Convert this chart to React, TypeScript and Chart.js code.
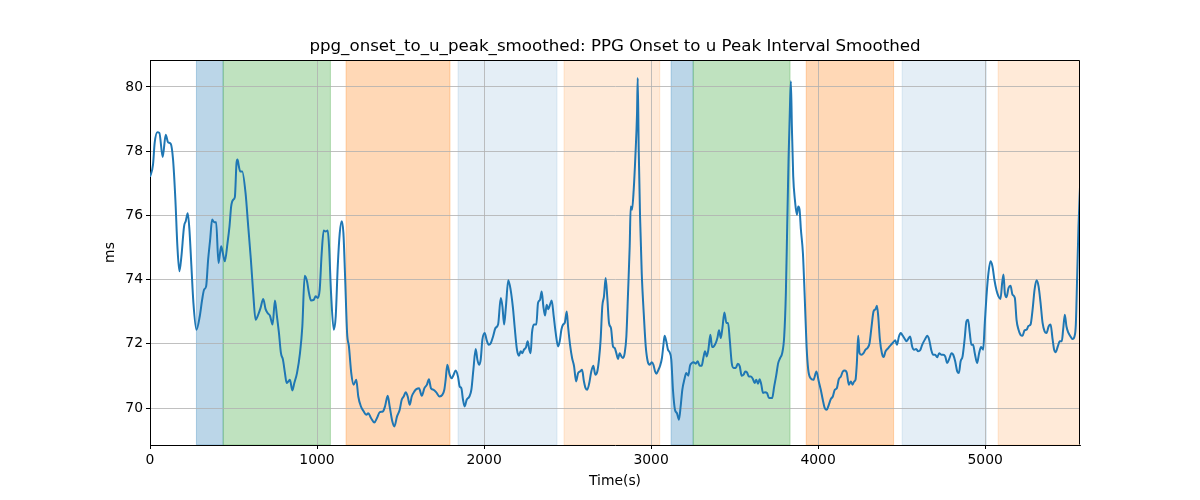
import React, { useEffect, useRef } from "react";
import { Chart, registerables } from "chart.js";

Chart.register(...registerables);

const TITLE = "ppg_onset_to_u_peak_smoothed: PPG Onset to u Peak Interval Smoothed";
const X_LABEL = "Time(s)";
const Y_LABEL = "ms";
const X_TICKS = [0, 1000, 2000, 3000, 4000, 5000];
const Y_TICKS = [70, 72, 74, 76, 78, 80];
const X_MIN = 0;
const X_MAX = 5568;
const Y_MIN = 68.85;
const Y_MAX = 80.84;

const times = [
  0, 18, 28, 44, 56, 76, 94, 108, 124, 138, 152, 164, 176, 188, 204, 214, 226, 236, 248, 260,
  278, 298, 312, 324, 336, 348, 360, 372, 384, 396, 410, 426, 436, 448, 464, 476, 486, 498, 508, 518,
  524, 532, 540, 552, 572, 588, 604, 618, 632, 648, 662, 678, 692, 704, 718, 734, 748, 760, 772, 784,
  796, 808, 818, 828, 838, 852, 864, 880, 898, 912, 926, 940, 952, 964, 980, 992, 1004, 1016, 1028, 1040,
  1052, 1064, 1072, 1084, 1100, 1112, 1124, 1136, 1148, 1158, 1168, 1180, 1191, 1205, 1219, 1235, 1247, 1263, 1279, 1295,
  1307, 1323, 1343, 1359, 1375, 1395, 1407, 1423, 1435, 1451, 1463, 1479, 1495, 1507, 1519, 1531, 1543, 1555, 1567, 1583,
  1595, 1611, 1627, 1643, 1658, 1670, 1682, 1698, 1714, 1734, 1750, 1762, 1770, 1780, 1794, 1806, 1818, 1830, 1844, 1854,
  1864, 1874, 1884, 1896, 1912, 1924, 1936, 1950, 1960, 1970, 1980, 1990, 2004, 2016, 2028, 2040, 2054, 2068, 2084, 2100,
  2110, 2120, 2131, 2145, 2159, 2173, 2183, 2197, 2209, 2219, 2229, 2239, 2251, 2261, 2271, 2279, 2287, 2299, 2313, 2323,
  2335, 2345, 2355, 2365, 2375, 2385, 2395, 2405, 2417, 2429, 2443, 2453, 2463, 2473, 2483, 2495, 2503, 2515, 2527, 2539,
  2551, 2563, 2575, 2587, 2597, 2608, 2618, 2630, 2642, 2654, 2666, 2678, 2688, 2698, 2708, 2718, 2728, 2738, 2748, 2760,
  2772, 2782, 2792, 2802, 2812, 2822, 2832, 2842, 2852, 2862, 2872, 2878, 2886, 2896, 2906, 2916, 2920, 2926, 2934, 2944,
  2956, 2968, 2980, 2992, 3004, 3014, 3024, 3032, 3044, 3054, 3065, 3073, 3081, 3091, 3101, 3111, 3121, 3131, 3143, 3155,
  3167, 3177, 3187, 3199, 3211, 3223, 3233, 3243, 3255, 3267, 3279, 3291, 3303, 3313, 3323, 3333, 3343, 3355, 3365, 3375,
  3387, 3397, 3407, 3417, 3427, 3439, 3451, 3461, 3471, 3483, 3495, 3507, 3519, 3531, 3542, 3554, 3564, 3574, 3586, 3598,
  3610, 3620, 3630, 3640, 3650, 3660, 3670, 3682, 3694, 3706, 3725, 3737, 3749, 3761, 3773, 3785, 3797, 3807, 3815, 3823,
  3831, 3837, 3843, 3851, 3861, 3873, 3881, 3889, 3897, 3909, 3919, 3931, 3941, 3955, 3972, 3990, 4004, 4016, 4028, 4040,
  4052, 4064, 4076, 4088, 4100, 4112, 4124, 4136, 4148, 4160, 4172, 4184, 4196, 4206, 4216, 4224, 4232, 4240, 4248, 4260,
  4272, 4284, 4296, 4308, 4320, 4332, 4344, 4352, 4360, 4370, 4382, 4392, 4404, 4420, 4436, 4450, 4462, 4472, 4484, 4495,
  4507, 4519, 4529, 4539, 4551, 4563, 4575, 4587, 4599, 4611, 4623, 4641, 4653, 4665, 4677, 4689, 4701, 4713, 4725, 4737,
  4749, 4761, 4773, 4785, 4799, 4809, 4821, 4833, 4843, 4853, 4865, 4877, 4888, 4898, 4908, 4918, 4928, 4938, 4952, 4964,
  4976, 4988, 4998, 5008, 5020, 5032, 5044, 5056, 5068, 5080, 5092, 5102, 5110, 5118, 5128, 5140, 5152, 5164, 5178, 5188,
  5200, 5212, 5224, 5236, 5248, 5260, 5272, 5284, 5296, 5308, 5320, 5332, 5344, 5356, 5368, 5380, 5392, 5403, 5413, 5423,
  5435, 5447, 5459, 5467, 5477, 5487, 5499, 5511, 5523, 5535, 5543, 5551, 5559, 5568,
];

const values = [
  77.2, 77.58, 78.26, 78.59, 78.57, 77.82, 78.51, 78.28, 78.23, 77.74, 76.49, 75.04, 74.26, 74.72, 75.66, 75.82, 76.07, 75.56, 74.41, 73.27,
  72.44, 72.86, 73.37, 73.69, 73.79, 74.62, 75.24, 75.87, 75.79, 75.79, 74.52, 75.04, 74.83, 74.57, 75.14, 75.66, 76.28, 76.49, 76.57, 77.63,
  77.74, 77.53, 77.37, 77.37, 76.7, 75.66, 74.62, 73.58, 72.75, 72.91, 73.12, 73.4, 73.08, 72.96, 72.88, 72.6, 73.35, 72.86, 72.34, 71.71,
  71.51, 71.09, 70.78, 70.83, 70.88, 70.55, 70.78, 71.09, 71.71, 72.54, 74.12, 73.95, 73.58, 73.35, 73.37, 73.48, 73.43, 73.69, 74.83, 75.53,
  75.5, 75.53, 75.04, 73.58, 72.44, 72.86, 74.41, 75.45, 75.82, 75.45, 74.1, 72.34, 71.92, 71.09, 70.73, 70.88, 70.36, 70.05, 69.9, 69.79,
  69.84, 69.69, 69.55, 69.69, 69.87, 69.9, 70.05, 70.38, 70.05, 69.58, 69.43, 69.74, 69.95, 70.26, 70.36, 70.49, 70.36, 70.1, 70.36, 70.52,
  70.59, 70.62, 70.38, 70.62, 70.73, 70.9, 70.62, 70.57, 70.49, 70.36, 70.41, 70.57, 70.88, 71.35, 71.04, 70.93, 71.04, 71.17, 70.98, 70.67,
  70.62, 70.26, 70.05, 70.26, 70.36, 70.57, 71.19, 71.84, 71.51, 71.35, 71.51, 72.13, 72.34, 72.11, 71.97, 72.02, 72.23, 72.49, 72.6, 73.43,
  73.17, 72.6, 73.17, 73.98, 73.69, 73.12, 72.54, 71.82, 71.63, 71.77, 71.71, 71.82, 71.89, 72.08, 71.82, 71.71, 72.34, 72.6, 72.6, 73.27,
  73.37, 73.63, 73.17, 72.88, 73.22, 73.08, 73.22, 73.35, 72.86, 72.34, 71.92, 72.08, 72.44, 72.6, 72.65, 73.01, 72.54, 71.97, 71.56, 71.3,
  70.83, 71.09, 71.14, 71.19, 70.86, 70.62, 70.57, 70.78, 71.14, 71.32, 71.04, 71.14, 71.51, 72.13, 73.17, 73.48, 74.05, 73.43, 72.65, 72.49,
  71.92, 71.87, 71.71, 71.53, 71.71, 71.61, 71.56, 71.71, 72.23, 73.58, 75.04, 76.28, 76.18, 76.8, 77.84, 79.19, 80.28, 78.05, 75.97, 74.21,
  72.96, 71.92, 71.45, 71.35, 71.43, 71.35, 71.14, 71.07, 71.19, 71.32, 71.56, 71.92, 72.25, 72.08, 71.82, 71.74, 71.51, 70.57, 69.95, 69.84,
  69.64, 70.05, 70.57, 70.88, 71.09, 71.01, 71.32, 71.4, 71.43, 71.38, 71.46, 71.32, 71.32, 71.56, 71.77, 71.61, 71.82, 72.28, 71.9, 71.92,
  72.02, 72.18, 72.42, 72.18, 72.49, 72.98, 72.65, 72.65, 72.13, 71.4, 71.25, 71.25, 71.38, 71.3, 71.01, 71.04, 71.14, 71.11, 70.98, 70.98,
  70.9, 70.78, 70.88, 70.76, 70.9, 70.73, 70.47, 70.49, 70.47, 70.31, 70.31, 70.67, 71.01, 71.4, 71.56, 71.71, 72.23, 73.58, 75.66, 77.74,
  79.29, 80.18, 78.77, 77.22, 76.49, 76.02, 76.28, 76.18, 75.56, 74.83, 73.58, 71.92, 71.19, 70.93, 70.88, 71.14, 70.83, 70.57, 70.26, 70.0,
  69.95, 70.1, 70.28, 70.36, 70.57, 70.62, 70.9, 70.98, 71.14, 71.17, 71.09, 70.73, 70.83, 70.73, 70.83, 70.88, 71.4, 72.25, 71.71, 71.66,
  71.71, 71.82, 71.87, 72.02, 72.54, 73.01, 73.08, 73.19, 72.86, 72.13, 71.71, 71.59, 71.77, 71.87, 71.97, 72.05, 72.11, 71.97, 72.23, 72.34,
  72.25, 72.15, 72.08, 72.15, 72.23, 71.92, 71.82, 71.84, 71.77, 71.8, 71.97, 72.15, 72.25, 72.13, 71.82, 71.66, 71.66, 71.58, 71.71, 71.66,
  71.66, 71.61, 71.4, 71.53, 71.71, 71.66, 71.45, 71.14, 71.09, 71.45, 71.61, 72.13, 72.7, 72.75, 72.34, 71.97, 71.97, 71.71, 71.4, 71.71,
  71.9, 71.82, 72.65, 73.48, 74.21, 74.57, 74.41, 73.98, 73.67, 73.48, 73.4, 73.9, 74.16, 73.58, 73.45, 73.74, 73.81, 73.53, 73.43, 72.75,
  72.44, 72.28, 72.25, 72.42, 72.44, 72.56, 72.6, 73.06, 73.69, 73.98, 73.79, 73.27, 72.65, 72.39, 72.34, 72.54, 72.6, 72.18, 71.82, 71.74,
  71.92, 72.08, 72.08, 72.44, 72.91, 72.54, 72.34, 72.23, 72.15, 72.23, 72.6, 74.1, 75.66, 76.88,
];

// shaded intervals (phases)
const bandStarts = [278, 438, 1174, 1844, 2479, 3120, 3252, 3929, 4503, 5078];
const bandEnds = [438, 1080, 1796, 2437, 3052, 3252, 3832, 4452, 5007, 5568];
const bandKinds = ["blue", "green", "orange", "lightblue", "lightorange", "blue", "green", "orange", "lightblue", "lightorange"];

const BAND_STYLE: Record<string, string> = {
  blue: "rgba(31,119,180,0.3)",
  green: "rgba(44,160,44,0.3)",
  orange: "rgba(255,127,14,0.3)",
  lightblue: "rgba(31,119,180,0.12)",
  lightorange: "rgba(255,127,14,0.16)",
};

const FONT = "'DejaVu Sans', sans-serif";

export default function App() {
  const ref = useRef<HTMLCanvasElement | null>(null);

  useEffect(() => {
    if (!ref.current) return;

    const bandsPlugin = {
      id: "bands",
      beforeDraw(chart: any) {
        const { ctx, chartArea, scales } = chart;
        const xs = scales.x;
        ctx.save();
        ctx.beginPath();
        ctx.rect(chartArea.left, chartArea.top, chartArea.right - chartArea.left, chartArea.bottom - chartArea.top);
        ctx.clip();
        for (let i = 0; i < bandStarts.length; i++) {
          const x0 = xs.getPixelForValue(bandStarts[i]);
          const x1 = xs.getPixelForValue(bandEnds[i]);
          const c = BAND_STYLE[bandKinds[i]];
          ctx.fillStyle = c;
          ctx.fillRect(x0, chartArea.top, x1 - x0, chartArea.bottom - chartArea.top);
          ctx.strokeStyle = c;
          ctx.lineWidth = 1;
          ctx.strokeRect(x0, chartArea.top, x1 - x0, chartArea.bottom - chartArea.top);
        }
        ctx.restore();
      },
      afterDraw(chart: any) {
        const { ctx, chartArea } = chart;
        ctx.save();
        ctx.strokeStyle = "#000";
        ctx.lineWidth = 1;
        const l = Math.round(chartArea.left) + 0.5;
        const r = Math.round(chartArea.right) - 0.5;
        const t = Math.round(chartArea.top) + 0.5;
        const b = Math.round(chartArea.bottom) - 0.5;
        ctx.beginPath();
        ctx.moveTo(l, t);
        ctx.lineTo(r, t);
        ctx.lineTo(r, b);
        ctx.stroke();
        ctx.fillStyle = "#000";
        ctx.font = `16.67px ${FONT}`;
        ctx.textAlign = "center";
        ctx.textBaseline = "alphabetic";
        ctx.fillText(TITLE, (chartArea.left + chartArea.right) / 2, 50.5);
        ctx.font = `13.9px ${FONT}`;
        ctx.textBaseline = "middle";
        ctx.fillText(X_LABEL, (chartArea.left + chartArea.right) / 2, 481);
        ctx.translate(110, (chartArea.top + chartArea.bottom) / 2);
        ctx.rotate(-Math.PI / 2);
        ctx.fillText(Y_LABEL, 0, 0);
        ctx.restore();
      },
    };

    const axisCommon = {
      grid: {
        color: "#b0b0b0",
        lineWidth: 0.8,
        tickColor: "#000",
        tickLength: 4,
        tickWidth: 1,
      },
      border: { color: "#000", width: 1 },
    };

    const chart = new Chart(ref.current, {
      type: "line",
      data: {
        datasets: [
          {
            data: times.map((t, i) => ({ x: t, y: values[i] })),
            borderColor: "#1f77b4",
            borderWidth: 2,
            pointRadius: 0,
            cubicInterpolationMode: "monotone",
            fill: false,
          },
        ],
      },
      plugins: [bandsPlugin],
      options: {
        responsive: false,
        animation: false,
        devicePixelRatio: 1,
        layout: { padding: { top: 60, right: 120, left: 0, bottom: 0 } },
        plugins: {
          legend: { display: false },
          title: { display: false },
          tooltip: { enabled: false },
        },
        scales: {
          x: {
            type: "linear",
            min: X_MIN,
            max: X_MAX,
            ...axisCommon,
            afterBuildTicks: (s: any) => {
              s.ticks = X_TICKS.map((v) => ({ value: v }));
            },
            afterFit: (s: any) => {
              s.height = 55;
            },
            ticks: {
              color: "#000",
              font: { family: FONT, size: 13.9 },
              padding: 3,
              maxRotation: 0,
              autoSkip: false,
              callback: (v: any) => String(v),
            },
          },
          y: {
            type: "linear",
            min: Y_MIN,
            max: Y_MAX,
            ...axisCommon,
            afterBuildTicks: (s: any) => {
              s.ticks = Y_TICKS.map((v) => ({ value: v }));
            },
            afterFit: (s: any) => {
              s.width = 150;
            },
            ticks: {
              color: "#000",
              font: { family: FONT, size: 13.9 },
              padding: 3,
              autoSkip: false,
              callback: (v: any) => String(v),
            },
          },
        },
      },
    } as any);

    return () => chart.destroy();
  }, []);

  return (
    <div style={{ position: "absolute", left: 0, top: 0, width: 1200, height: 500, background: "#fff" }}>
      <canvas ref={ref} width={1200} height={500} style={{ display: "block", width: 1200, height: 500 }} />
    </div>
  );
}
